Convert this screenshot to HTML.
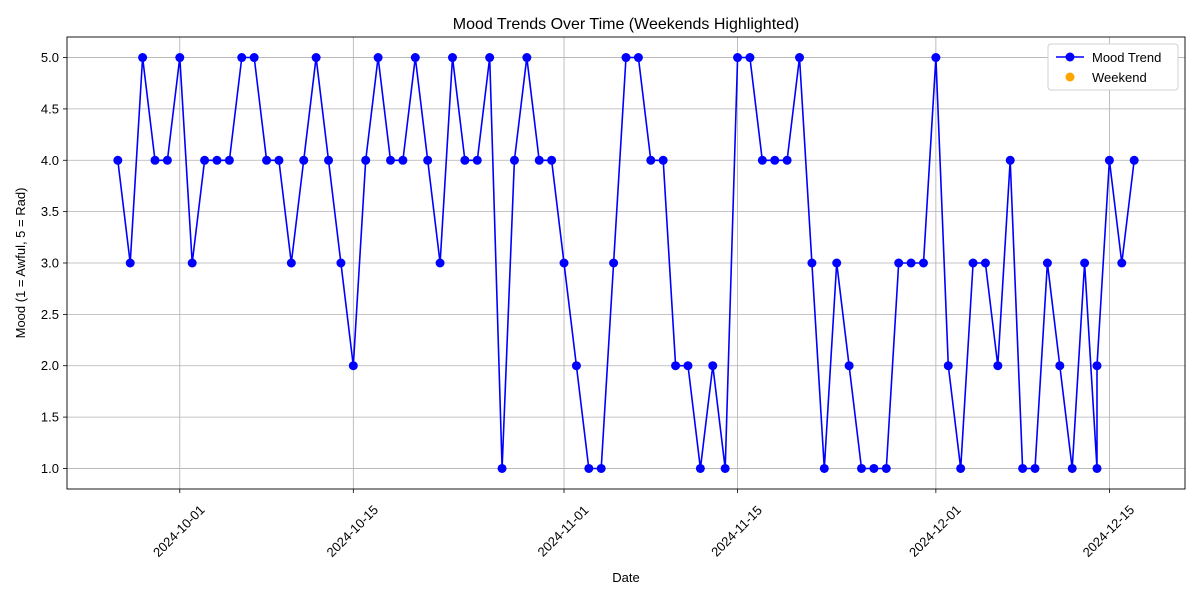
<!DOCTYPE html>
<html><head><meta charset="utf-8"><style>
body{margin:0;background:#fff;}
svg text{font-family:"Liberation Sans","DejaVu Sans",sans-serif;}
</style></head><body>
<svg id="c" width="1200" height="600" xmlns="http://www.w3.org/2000/svg"></svg>
<script>
const dayOffsets=[0,1,2,3,4,5,6,7,8,9,10,11,12,13,14,15,16,17,18,19,20,21,22,23,24,25,26,27,28,29,30,31,32,33,34,35,36,37,38,39,40,41,42,43,44,45,46,47,48,49,50,51,52,53,54,55,56,57,58,59,60,61,62,63,64,65,66,67,68,69,70,71,72,73,74,75,76,77,78,79,79,80,81,82];
const moods=[4,3,5,4,4,5,3,4,4,4,5,5,4,4,3,4,5,4,3,2,4,5,4,4,5,4,3,5,4,4,5,1,4,5,4,4,3,2,1,1,3,5,5,4,4,2,2,1,2,1,5,5,4,4,4,5,3,1,3,2,1,1,1,3,3,3,5,2,1,3,3,2,4,1,1,3,2,1,3,1,2,4,3,4];
const xTickOffsets=[5,19,36,50,66,80];
const xTickLabels=["2024-10-01","2024-10-15","2024-11-01","2024-11-15","2024-12-01","2024-12-15"];
const yTicks=[1.0,1.5,2.0,2.5,3.0,3.5,4.0,4.5,5.0];

const svg=document.getElementById('c');
const NS="http://www.w3.org/2000/svg";
const L=67,R=1185,T=37,B=489;
const xmin=-4.1,xmax=86.1,ymin=0.8,ymax=5.2;
const X=d=>L+(d-xmin)/(xmax-xmin)*(R-L);
const Y=v=>B-(v-ymin)/(ymax-ymin)*(B-T);
function mk(tag,attrs,parent){const e=document.createElementNS(NS,tag);for(const k in attrs)e.setAttribute(k,attrs[k]);(parent||svg).appendChild(e);return e;}

const grid=mk('g',{});


xTickOffsets.forEach((d,i)=>{
  mk('line',{x1:X(d),x2:X(d),y1:T,y2:B,stroke:'#b0b0b0','stroke-width':0.8},grid);
  mk('line',{x1:X(d),x2:X(d),y1:B,y2:B+4,stroke:'#000','stroke-width':0.8});
  const t=mk('text',{x:0,y:4.5,'font-size':13,'text-anchor':'middle',transform:`translate(${X(d)-1},${B+42}) rotate(-45)`});
  t.textContent=xTickLabels[i];
  
  
});
yTicks.forEach(v=>{
  mk('line',{x1:L,x2:R,y1:Y(v),y2:Y(v),stroke:'#b0b0b0','stroke-width':0.8},grid);
  mk('line',{x1:L-4,x2:L,y1:Y(v),y2:Y(v),stroke:'#000','stroke-width':0.8});
  const t=mk('text',{x:L-8,y:Y(v)+4.5,'font-size':13,'text-anchor':'end'});
  t.textContent=v.toFixed(1);
  
  
});
const pts=dayOffsets.map((d,i)=>X(d).toFixed(1)+','+Y(moods[i]).toFixed(1)).join(' ');
const line=mk('polyline',{points:pts,fill:'none',stroke:'#0000ff','stroke-width':1.6});


dayOffsets.forEach((d,i)=>{
  const c=mk('circle',{cx:X(d),cy:Y(moods[i]),r:4.5,fill:'#0000ff'});
  
  
});
const frame=mk('rect',{x:L,y:T,width:R-L,height:B-T,fill:'none',stroke:'#000','stroke-width':0.9});


const title=mk('text',{x:(L+R)/2,y:29,'font-size':16,'text-anchor':'middle'});
title.textContent='Mood Trends Over Time (Weekends Highlighted)';


const xl=mk('text',{x:(L+R)/2,y:582,'font-size':13,'text-anchor':'middle'});
xl.textContent='Date';


const yl=mk('text',{x:0,y:0,'font-size':13,'text-anchor':'middle',transform:`translate(25,${(T+B)/2}) rotate(-90)`});
yl.textContent='Mood (1 = Awful, 5 = Rad)';


const lg=mk('g',{});


mk('rect',{x:1048,y:44,width:130,height:46,rx:3,fill:'#fff',stroke:'#d0d0d0'},lg);
mk('line',{x1:1056,x2:1084,y1:57,y2:57,stroke:'#0000ff','stroke-width':1.6},lg);
mk('circle',{cx:1070,cy:57,r:4.5,fill:'#0000ff'},lg);
const t1=mk('text',{x:1092,y:62,'font-size':13},lg);t1.textContent='Mood Trend';


mk('circle',{cx:1070,cy:77,r:4.5,fill:'#ffa500'},lg);
const t2=mk('text',{x:1092,y:82,'font-size':13},lg);t2.textContent='Weekend';


</script>
</body></html>
